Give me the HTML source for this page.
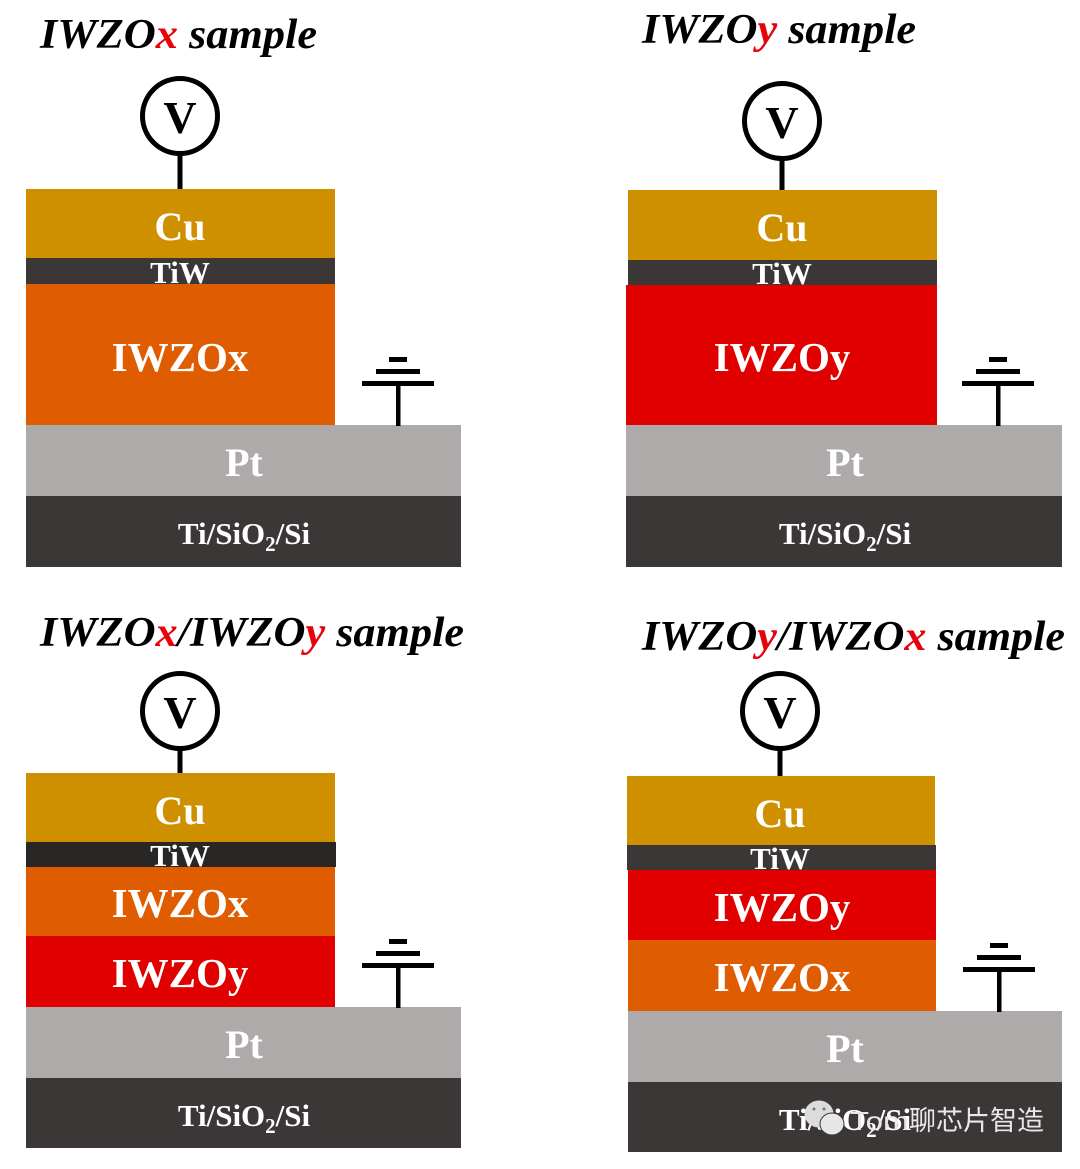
<!DOCTYPE html>
<html><head><meta charset="utf-8"><style>
html,body{margin:0;padding:0;background:#fff}
svg{display:block}
text{font-family:"Liberation Serif","Noto Serif CJK SC",serif;font-weight:bold}
.w{fill:#fff;text-anchor:middle}
.t{font-style:italic;font-size:42px;fill:#000}
.r{fill:#e8000b}
.v{font-size:46px;fill:#000;text-anchor:middle}
.c{fill:none;stroke:#000;stroke-width:5}
</style></head><body>
<svg width="1080" height="1169" viewBox="0 0 1080 1169" xmlns="http://www.w3.org/2000/svg">
<rect width="1080" height="1169" fill="#fff"/>

<!-- Panel 1 -->
<text class="t" x="40" y="48" textLength="277" lengthAdjust="spacingAndGlyphs">IWZO<tspan class="r">x</tspan> sample</text>
<circle class="c" cx="180" cy="116" r="37.5"/>
<text class="v" x="180" y="133">V</text>
<rect x="177.500" y="154" width="5" height="36" fill="#000"/>
<rect x="26" y="189" width="309" height="69" fill="#cf9000"/>
<rect x="26" y="258" width="309" height="26" fill="#3a3736"/>
<rect x="26" y="284" width="309" height="141" fill="#e05c00"/>
<rect x="26" y="425" width="435" height="71" fill="#aeaaa9"/>
<rect x="26" y="496" width="435" height="71" fill="#3a3736"/>
<text class="w" x="180" y="240" font-size="40">Cu</text>
<text class="w" x="180" y="283" font-size="31">TiW</text>
<text class="w" x="180" y="371" font-size="41">IWZOx</text>
<text class="w" x="244" y="476" font-size="40">Pt</text>
<text class="w" x="244" y="544" font-size="31">Ti/SiO<tspan font-size="21" dy="7">2</tspan><tspan dy="-7">/Si</tspan></text>
<rect x="396" y="384" width="4.500" height="42" fill="#000"/>
<rect x="362" y="381" width="72" height="5" fill="#000"/>
<rect x="376" y="369" width="44" height="5" fill="#000"/>
<rect x="389" y="357" width="18" height="5" fill="#000"/>

<!-- Panel 2 -->
<text class="t" x="642" y="43" textLength="274" lengthAdjust="spacingAndGlyphs">IWZO<tspan class="r">y</tspan> sample</text>
<circle class="c" cx="782" cy="121" r="37.5"/>
<text class="v" x="782" y="138">V</text>
<rect x="779.500" y="159" width="5" height="32" fill="#000"/>
<rect x="628" y="190" width="309" height="70" fill="#cf9000"/>
<rect x="628" y="260" width="309" height="25" fill="#3a3736"/>
<rect x="626" y="285" width="311" height="140" fill="#e00000"/>
<rect x="626" y="425" width="436" height="71" fill="#aeaaa9"/>
<rect x="626" y="496" width="436" height="71" fill="#3a3736"/>
<text class="w" x="782" y="241" font-size="40">Cu</text>
<text class="w" x="782" y="284" font-size="31">TiW</text>
<text class="w" x="782" y="371" font-size="41">IWZOy</text>
<text class="w" x="845" y="476" font-size="40">Pt</text>
<text class="w" x="845" y="544" font-size="31">Ti/SiO<tspan font-size="21" dy="7">2</tspan><tspan dy="-7">/Si</tspan></text>
<rect x="996" y="384" width="4.500" height="42" fill="#000"/>
<rect x="962" y="381" width="72" height="5" fill="#000"/>
<rect x="976" y="369" width="44" height="5" fill="#000"/>
<rect x="989" y="357" width="18" height="5" fill="#000"/>

<!-- Panel 3 -->
<text class="t" x="40" y="646" textLength="424" lengthAdjust="spacingAndGlyphs">IWZO<tspan class="r">x</tspan>/IWZO<tspan class="r">y</tspan> sample</text>
<circle class="c" cx="180" cy="711" r="37.5"/>
<text class="v" x="180" y="728">V</text>
<rect x="177.500" y="749" width="5" height="25" fill="#000"/>
<rect x="26" y="773" width="309" height="69" fill="#cf9000"/>
<rect x="26" y="842" width="310" height="25" fill="#282726"/>
<rect x="26" y="867" width="309" height="69" fill="#e05c00"/>
<rect x="26" y="936" width="309" height="71" fill="#e00000"/>
<rect x="26" y="1007" width="435" height="71" fill="#aeaaa9"/>
<rect x="26" y="1078" width="435" height="70" fill="#3a3736"/>
<text class="w" x="180" y="824" font-size="40">Cu</text>
<text class="w" x="180" y="866" font-size="31">TiW</text>
<text class="w" x="180" y="917" font-size="41">IWZOx</text>
<text class="w" x="180" y="987" font-size="41">IWZOy</text>
<text class="w" x="244" y="1058" font-size="40">Pt</text>
<text class="w" x="244" y="1126" font-size="31">Ti/SiO<tspan font-size="21" dy="7">2</tspan><tspan dy="-7">/Si</tspan></text>
<rect x="396" y="966" width="4.500" height="42" fill="#000"/>
<rect x="362" y="963" width="72" height="5" fill="#000"/>
<rect x="376" y="951" width="44" height="5" fill="#000"/>
<rect x="389" y="939" width="18" height="5" fill="#000"/>

<!-- Panel 4 -->
<text class="t" x="642" y="650" textLength="423" lengthAdjust="spacingAndGlyphs">IWZO<tspan class="r">y</tspan>/IWZO<tspan class="r">x</tspan> sample</text>
<circle class="c" cx="780" cy="711" r="37.5"/>
<text class="v" x="780" y="728">V</text>
<rect x="777.500" y="749" width="5" height="28" fill="#000"/>
<rect x="627" y="776" width="308" height="69" fill="#cf9000"/>
<rect x="627" y="845" width="309" height="25" fill="#3a3736"/>
<rect x="628" y="870" width="308" height="70" fill="#e00000"/>
<rect x="628" y="940" width="308" height="71" fill="#e05c00"/>
<rect x="628" y="1011" width="434" height="71" fill="#aeaaa9"/>
<rect x="628" y="1082" width="434" height="70" fill="#3a3736"/>
<text class="w" x="780" y="827" font-size="40">Cu</text>
<text class="w" x="780" y="869" font-size="31">TiW</text>
<text class="w" x="782" y="921" font-size="41">IWZOy</text>
<text class="w" x="782" y="991" font-size="41">IWZOx</text>
<text class="w" x="845" y="1062" font-size="40">Pt</text>
<text class="w" x="845" y="1130" font-size="31">Ti/SiO<tspan font-size="21" dy="7">2</tspan><tspan dy="-7">/Si</tspan></text>
<rect x="997" y="970" width="4.500" height="42" fill="#000"/>
<rect x="963" y="967" width="72" height="5" fill="#000"/>
<rect x="977" y="955" width="44" height="5" fill="#000"/>
<rect x="990" y="943" width="18" height="5" fill="#000"/>

<!-- Watermark -->
<ellipse cx="819" cy="1114" rx="14.500" ry="13.500" fill="#dcdcdc"/>
<circle cx="814" cy="1109" r="1.500" fill="#777"/>
<circle cx="824" cy="1109" r="1.500" fill="#777"/>
<ellipse cx="832" cy="1124" rx="12" ry="11" fill="#e6e6e6" stroke="#3a3736" stroke-width="1"/>
<text x="850" y="1130" font-size="26" fill="#e8e8e8" textLength="59" lengthAdjust="spacingAndGlyphs" style="font-family:'Liberation Sans',sans-serif;font-weight:normal">Tom</text>
<text x="909" y="1130" font-size="27" fill="#e8e8e8" style="font-family:'Liberation Sans','Noto Sans CJK SC',sans-serif;font-weight:normal">聊芯片智造</text>
</svg>
</body></html>
